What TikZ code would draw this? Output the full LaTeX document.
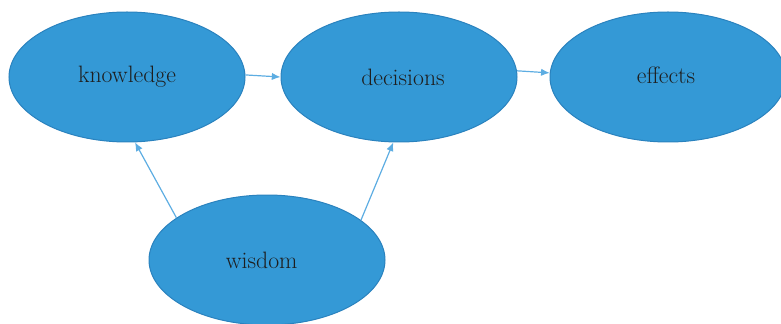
\documentclass[tikz,border=0pt]{standalone}
\usepackage{tikz}
\usetikzlibrary{arrows.meta,shapes.geometric}

\tikzset{
blob/.style={ellipse,draw={rgb, 255:red, 42; green, 130; blue, 190 },line width=0.75pt,fill={rgb, 255:red, 52; green, 153; blue, 214 },minimum width=177pt,minimum height=97.5pt,inner sep=0pt,font=\fontsize{17.8}{21}\selectfont,text={rgb, 255:red, 30; green, 30; blue, 30 }},
link/.style={color={rgb, 255:red, 93; green, 173; blue, 226 },line width=0.9pt,-{Latex[length=6.5pt,width=5.5pt]}}
}

\begin{document}
\begin{tikzpicture}[x=0.75pt,y=0.75pt,yscale=-1,xscale=1]
\useasboundingbox (0,0) rectangle (781,324);

%Shape: Ellipse
\node [blob] (knowl) at (127,77) {\raisebox{-1.5pt}{knowledge}};
%Shape: Ellipse
\node [blob] (decis) at (399,77) {\hspace*{6pt}decisions};
%Shape: Ellipse
\node [blob] (effct) at (668,77) {\raisebox{2pt}{effects}\hspace*{3pt}};
%Shape: Ellipse
\node [blob] (wisdm) at (267,260) {wisdom\hspace*{8pt}};

%Straight Lines
\draw [link] (knowl.1) -- (decis.180);
%Straight Lines
\draw [link] (decis.3) -- (effct.178);
%Straight Lines
\draw [link] (wisdm.155) -- (knowl.277);
%Straight Lines
\draw [link] (wisdm.23) -- (decis.265);

\end{tikzpicture}
\end{document}
